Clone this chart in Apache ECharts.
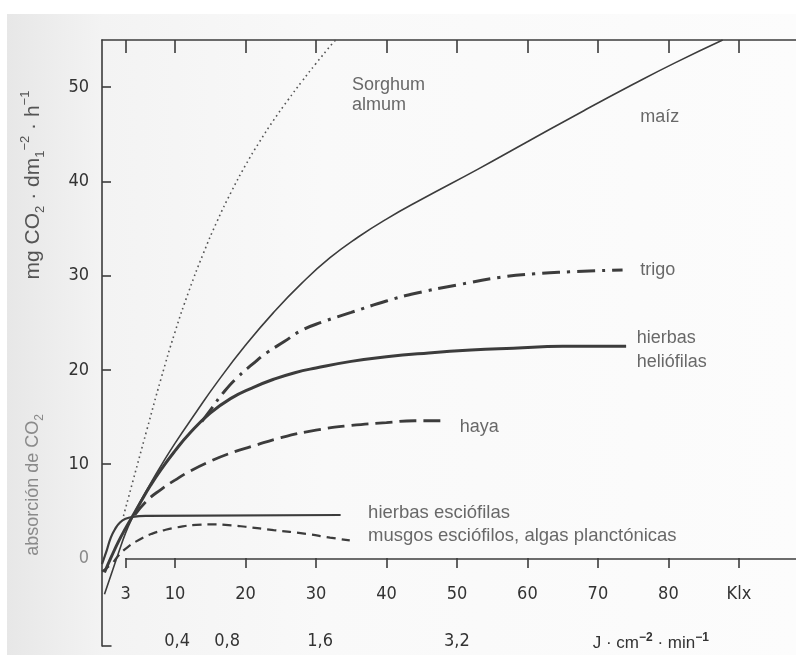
<!DOCTYPE html>
<html>
<head>
<meta charset="utf-8">
<script src="https://cdn.jsdelivr.net/npm/echarts@6/dist/echarts.min.js"></script>
<style>html,body{margin:0;padding:0;background:#fff}#c{width:796px;height:655px}</style>
</head>
<body>
<div id="c"></div>
<script>
// ---- data (x = illuminance in Klx, y = CO2 uptake) ----
const maiz = [[0,-3.8],[1,-1.6],[2,0.6],[3,2.7],[4,4.4],[5,5.9],[6.5,7.9],[8,9.8],[10,12.2],[13,15.5],[16,18.7],[20,22.6],[24,26.1],[28,29.2],[32,31.9],[36,34.1],[40,36.0],[45,38.1],[53,41.3],[60,44.2],[68,47.5],[75,50.3],[81,52.6],[87.7,55]];
const heliofilas = [[0,-1.5],[1,0.2],[2,1.8],[3,3.2],[4,4.5],[5,5.8],[6.5,7.7],[8,9.4],[10,11.4],[12,13.2],[15,15.4],[18,17.0],[21,18.1],[24,19.0],[27,19.7],[30,20.2],[35,20.9],[40,21.4],[46,21.8],[52,22.1],[58,22.3],[65,22.5],[74,22.5]];
const trigo = [[13.8,14.5],[15,15.7],[17,17.7],[19,19.3],[21,20.6],[23,21.8],[25.5,23.0],[28,24.2],[31,25.1],[35,26.1],[40,27.3],[44,28.1],[50,29.0],[56,29.8],[61,30.2],[66,30.4],[73.5,30.6]];
const haya = [[4.3,4.6],[6,6.1],[8,7.3],[10,8.3],[12,9.2],[15,10.3],[18,11.2],[21,11.9],[25,12.8],[30,13.6],[35,14.1],[40,14.4],[44,14.6],[48.5,14.6]];
const esciofilas = [[-0.35,-0.6],[0.3,0.8],[0.9,2.2],[1.5,3.1],[2.2,3.8],[3,4.2],[4,4.4],[6,4.5],[33.5,4.6]];
const musgos = [[-0.35,-1.4],[1,-0.6],[2,0.3],[3.3,1.2],[5,2.0],[6.7,2.6],[8.5,3.0],[10.4,3.3],[13,3.55],[15.2,3.6],[18,3.5],[20,3.35],[24,3.0],[28.6,2.6],[32,2.2],[34.8,1.9]];
const sorghum = [[2.7,4.5],[4,8.1],[6,13.6],[8,19.0],[10,24.0],[12,28.4],[14,32.3],[16,35.8],[18,38.9],[20,41.7],[22,44.2],[24,46.5],[26,48.6],[28,50.6],[30,52.5],[32.3,54.6],[32.8,55]];

// ---- tick labels ----
const xTicks = [3,10,20,30,40,50,60,70,80,90];
const xTickText = ['3','10','20','30','40','50','60','70','80','Klx'];
const yTicks = [10,20,30,40,50];
const yLabels = [0,10,20,30,40,50];
const energyPos = [10.3,17.4,30.6,50,77.5];
const energyText = ['0,4','0,8','1,6','3,2','{a|J · cm}{b|−2}{a| · min}{b|−1}'];

const X_MIN = -0.35, X_MAX = 98.1, Y_MIN = -9.3, Y_MAX = 55;
const GRID_TOP = 40, GRID_H = 606;
const ZERO_OFFSET = -Math.round(GRID_H * (0 - Y_MIN) / (Y_MAX - Y_MIN)); // lift bottom axis up to y = 0
const INK = '#3c3c3c';
const NUMFONT = '"DejaVu Sans Condensed","Liberation Sans Narrow","DejaVu Sans",sans-serif';
const TXTFONT = '"Liberation Sans",Arial,sans-serif';

const chart = echarts.init(document.getElementById('c'), null, {renderer:'canvas'});

function curve(name, data, lw, type, color){
  return {
    name, type:'line', data, showSymbol:false, smooth:0.5,
    xAxisIndex:0, yAxisIndex:0, silent:true, z:3,
    lineStyle:{color: color||INK, width:lw, type, cap:'butt'}
  };
}

const option = {
  backgroundColor:'#ffffff',
  animation:false,
  graphic:[
    {type:'rect', z:-100, silent:true, shape:{x:7,y:14,width:789,height:641},
     style:{fill:new echarts.graphic.LinearGradient(0,0,1,0,[
       {offset:0,color:'#e7e7e7'},{offset:0.12,color:'#f3f3f3'},{offset:0.4,color:'#f9f9f9'},{offset:1,color:'#fcfcfc'}])}},
    {type:'text', x:33, y:185, rotation:Math.PI/2, silent:true,
     style:{text:'{a|mg CO}{s|2}{a| · dm}{s|1}{p|−2}{a| · h}{p|−1}', align:'center', verticalAlign:'middle', fill:'#555',
       rich:{a:{fontSize:21,fontFamily:TXTFONT,fill:'#555',lineHeight:28},
             s:{fontSize:13,fontFamily:TXTFONT,fill:'#555',lineHeight:13,verticalAlign:'bottom'},
             p:{fontSize:13,fontFamily:TXTFONT,fill:'#555',lineHeight:13,verticalAlign:'top'}}}},
    {type:'text', x:33, y:485, rotation:Math.PI/2, silent:true,
     style:{text:'{a|absorción de CO}{s|2}', align:'center', verticalAlign:'middle', fill:'#8a8a8a',
       rich:{a:{fontSize:18,fontFamily:TXTFONT,fill:'#8a8a8a',lineHeight:26},
             s:{fontSize:12,fontFamily:TXTFONT,fill:'#8a8a8a',lineHeight:12,verticalAlign:'bottom'}}}}
  ],
  grid:{left:102, top:GRID_TOP, width:694, height:GRID_H, containLabel:false, outerBoundsMode:'none'},
  xAxis:[
    {type:'value', min:X_MIN, max:X_MAX, position:'bottom', offset:ZERO_OFFSET,
     axisLine:{show:false, onZero:false},
     splitLine:{show:false},
     axisTick:{show:true, length:10, inside:false, customValues:xTicks, lineStyle:{color:INK,width:1.6}},
     axisLabel:{customValues:xTicks, margin:27, fontSize:18, fontFamily:NUMFONT, color:'#333',
       formatter:(v)=>xTickText[xTicks.indexOf(v)]}},
    {type:'value', min:X_MIN, max:X_MAX, position:'top',
     axisLine:{show:true, onZero:false, lineStyle:{color:INK,width:1.6}},
     splitLine:{show:false},
     axisTick:{show:true, length:13, inside:true, customValues:xTicks, lineStyle:{color:INK,width:1.6}},
     axisLabel:{show:false}},
    {type:'value', min:X_MIN, max:X_MAX, position:'bottom', offset:-14,
     axisLine:{show:false, onZero:false}, splitLine:{show:false}, axisTick:{show:false},
     axisLabel:{customValues:energyPos, margin:0, fontSize:18, fontFamily:NUMFONT, color:'#333',
       formatter:(v)=>energyText[energyPos.indexOf(v)],
       rich:{a:{fontSize:17,fontFamily:TXTFONT,color:'#333',lineHeight:22},
             b:{fontSize:12,fontFamily:TXTFONT,color:'#333',lineHeight:12,verticalAlign:'top',fontWeight:'bold'}}}}
  ],
  yAxis:[
    {type:'value', min:Y_MIN, max:Y_MAX, position:'left',
     axisLine:{show:true, onZero:false, lineStyle:{color:INK,width:1.6}},
     splitLine:{show:false},
     axisTick:{show:true, inside:true, length:9, customValues:yTicks, lineStyle:{color:INK,width:1.6}},
     axisLabel:{customValues:yLabels, margin:13, fontSize:18, fontFamily:NUMFONT,
       color:(v)=> (Number(v)===0 ? '#8a8a8a' : '#333')}}
  ],
  series:[
    curve('Sorghum almum', sorghum, 1.6, [1.6,3.4], '#555'),
    curve('maíz', maiz, 1.6, 'solid'),
    curve('trigo', trigo, 3, [18,7,3,7]),
    curve('hierbas heliófilas', heliofilas, 3, 'solid'),
    curve('haya', haya, 2.8, [17,7]),
    Object.assign(curve('hierbas esciófilas', esciofilas, 2.2, 'solid'), {
      markLine:{silent:true, symbol:['none','none'], label:{show:false},
        lineStyle:{color:INK, width:1.6, type:'solid'},
        data:[
          [{coord:[3,0]},{coord:[X_MAX,0]}],
          [{coord:[X_MIN,Y_MIN]},{coord:[1,Y_MIN]}]
        ]}
    }),
    curve('musgos esciófilos, algas planctónicas', musgos, 2.2, [9,6]),
    {type:'scatter', name:'labels', symbolSize:0, silent:true, z:5,
     label:{show:true, position:'right', distance:0, fontSize:18.5, fontFamily:TXTFONT, color:'#444', lineHeight:20, align:'left'},
     data:[
       {value:[35.1,49.2], label:{formatter:'Sorghum\nalmum', fontSize:18}},
       {value:[76.0,46.8], label:{formatter:'maíz', fontSize:18}},
       {value:[76.0,30.6], label:{formatter:'trigo', fontSize:18}},
       {value:[75.5,22.1], label:{formatter:'hierbas\nheliófilas', lineHeight:24, fontSize:18}},
       {value:[50.4,13.9], label:{formatter:'haya', fontSize:18}},
       {value:[37.4,4.8], label:{formatter:'hierbas esciófilas'}},
       {value:[37.4,2.4], label:{formatter:'musgos esciófilos, algas planctónicas'}}
     ]}
  ]
};
chart.setOption(option);
</script>
</body>
</html>
